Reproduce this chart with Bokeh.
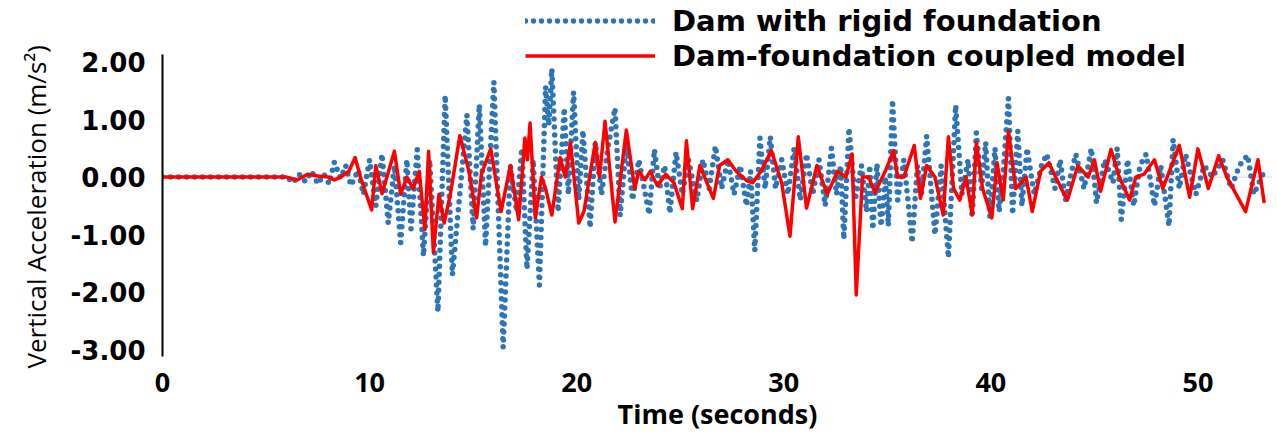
from bokeh.plotting import figure
from bokeh.models import Range1d, FixedTicker, Span, Legend, LegendItem, NumeralTickFormatter, Title
from bokeh.embed import file_html
from bokeh.resources import INLINE

# ---- data ----
x_ticks = [0, 10, 20, 30, 40, 50]
y_ticks = [-3, -2, -1, 0, 1, 2]

series_names = ["Dam with rigid foundation", "Dam-foundation coupled model"]
x_title = "Time (seconds)"
y_title = "Vertical Acceleration (m/s²)"

rigid_t = [0, 6.0, 6.3, 6.6, 6.9, 7.2, 7.5, 7.8, 8.05, 8.3,
           8.6, 8.85, 9.1, 9.45, 9.7, 10.0, 10.3, 10.6, 10.9, 11.2,
           11.5, 11.8, 12.0, 12.3, 12.6, 12.9, 13.3, 13.65, 14.0, 14.7,
           15.0, 15.3, 15.6, 16.0, 16.45, 16.8, 17.1, 17.35, 17.6, 17.9,
           18.2, 18.5, 18.65, 18.8, 19.1, 19.4, 19.6, 19.85, 20.1, 20.3,
           20.65, 20.9, 21.2, 21.5, 21.85, 22.1, 22.4, 22.7, 23.0, 23.5,
           23.75, 24.0, 24.25, 24.5, 24.8, 25.1, 25.4, 25.8, 26.1, 26.4,
           26.7, 27.0, 27.3, 27.6, 27.9, 28.2, 28.4, 28.6, 28.85, 29.1,
           29.35, 29.6, 29.9, 30.2, 30.5, 30.8, 31.1, 31.4, 31.7, 32.0,
           32.3, 32.55, 32.75, 32.9, 33.15, 33.45, 33.75, 34.0, 34.15, 34.3,
           34.5, 34.7, 34.9, 35.05, 35.25, 35.5, 35.8, 36.2, 36.45, 36.65,
           36.9, 37.3, 37.6, 37.95, 38.3, 38.6, 38.9, 39.1, 39.3, 39.55,
           39.75, 39.95, 40.2, 40.4, 40.6, 40.85, 41.05, 41.3, 41.5, 41.75,
           42.0, 42.1, 42.45, 42.7, 43.1, 43.35, 43.6, 43.9, 44.1, 44.5,
           44.85, 45.1, 45.5, 45.9, 46.1, 46.3, 46.6, 46.9, 47.2, 47.5,
           47.9, 48.2, 48.6, 48.8, 49.1, 49.4, 49.9, 50.3, 50.7, 51.2,
           51.6, 52.0, 52.4, 52.7, 53.2]
rigid_v = [0, 0, -0.1, 0.05, -0.08, 0.1, -0.12, 0.05, -0.12, 0.26,
           -0.02, 0.2, -0.15, 0.12, -0.3, 0.3, -0.5, 0.4, -0.8, 0.2,
           -1.14, 0.3, -0.9, 0.48, -1.37, 0.3, -2.34, 1.42, -1.7, 1.08,
           -0.9, 1.26, -1.2, 1.65, -2.96, 0.2, -0.6, 0.5, -1.6, 0.3,
           -1.88, 1.57, 0.9, 1.88, -0.6, 1.2, -0.3, 1.48, -0.4, 0.81,
           -0.88, 0.6, -0.3, 0.5, 1.2, -0.67, 0.6, -0.4, 0.3, -0.65,
           0.48, -0.2, 0.2, -0.63, 0.43, -0.3, 0.3, -0.41, 0.3, -0.2,
           0.54, -0.2, 0.3, -0.3, 0.2, -0.5, 0.1, -1.28, 0.68, -0.2,
           0.7, -0.2, 0.3, -0.3, 0.5, -0.4, 0.4, -0.3, 0.3, -0.5,
           0.5, -0.3, 0.2, -1.08, 0.85, -0.4, 0.2, -0.6, 0.2, -0.91,
           0.23, -0.85, 0.0, -0.85, 1.34, -0.4, 0.3, -1.14, 0.2, -0.3,
           0.71, -1.0, 0.2, -1.4, 1.25, -0.3, 0.3, -0.7, 0.77, -0.2,
           0.6, -0.7, 0.5, -0.6, 0.1, 1.37, -0.65, 0.8, -0.5, 0.5,
           -0.1, -0.3, 0.2, 0.4, -0.2, 0.3, -0.41, 0.1, 0.4, -0.2,
           0.5, -0.45, 0.3, -0.1, 0.5, -0.74, 0.3, -0.5, 0.2, 0.4,
           -0.5, 0.2, -0.85, 0.65, -0.2, 0.4, -0.3, 0.2, 0.0, 0.3,
           -0.2, 0.2, 0.38, -0.3, 0.1]

coupled_t = [0, 6.0, 6.5, 7.0, 7.5, 8.0, 8.3, 8.6, 9.0, 9.3,
             9.6, 10.1, 10.3, 10.6, 11.2, 11.5, 11.8, 12.1, 12.4, 12.67,
             12.85, 13.08, 13.35, 13.6, 13.9, 14.36, 14.8, 15.17, 15.4, 15.85,
             16.35, 16.8, 17.2, 17.5, 17.62, 17.75, 18.0, 18.3, 18.5, 18.8,
             19.2, 19.45, 19.7, 20.1, 20.35, 20.9, 21.1, 21.37, 21.85, 22.4,
             22.8, 23.0, 23.3, 23.55, 23.9, 24.3, 24.7, 25.1, 25.3, 25.6,
             25.95, 26.6, 26.9, 27.3, 27.7, 28.2, 28.5, 28.9, 29.4, 29.9,
             30.3, 30.7, 31.1, 31.6, 32.1, 32.6, 33.0, 33.3, 33.5, 33.8,
             34.1, 34.4, 34.9, 35.3, 35.5, 35.8, 36.3, 36.6, 36.9, 37.3,
             37.7, 37.95, 38.2, 38.5, 38.8, 39.1, 39.3, 39.6, 40.05, 40.3,
             40.6, 40.85, 41.2, 41.7, 42.0, 42.4, 42.8, 43.4, 43.7, 44.2,
             44.7, 45.0, 45.3, 45.8, 46.2, 46.7, 47.0, 47.4, 47.9, 48.3,
             49.1, 49.6, 50.0, 50.5, 51.0, 51.4, 52.3, 52.9, 53.2]
coupled_v = [0, 0, -0.05, 0.05, 0.02, 0.0, -0.05, 0.0, 0.1, 0.34,
             -0.05, -0.57, 0.2, -0.29, 0.45, -0.3, 0.0, -0.2, 0.1, -0.91,
             0.45, -1.31, -0.3, -0.8, -0.3, 0.72, 0.1, -0.71, 0.05, 0.49,
             -0.6, 0.2, -0.74, 0.68, 0.3, 0.94, -0.71, 0.0, -0.2, -0.66,
             0.34, 0.0, 0.6, -0.8, -0.6, 0.6, 0.0, 0.97, -0.78, 0.82,
             -0.2, 0.1, -0.05, 0.1, -0.15, 0.05, -0.1, -0.55, 0.63, -0.55,
             0.2, -0.37, 0.2, 0.3, 0.1, -0.06, -0.1, 0.1, 0.46, -0.1,
             -1.03, 0.7, -0.54, 0.2, -0.3, 0.1, 0.0, 0.4, -2.05, 0.0,
             0.0, -0.27, 0.1, 0.46, 0.0, 0.0, 0.55, -0.37, 0.2, 0.0,
             -0.66, 0.7, -0.2, -0.4, 0.0, -0.66, 0.6, -0.2, -0.71, 0.25,
             -0.4, 0.8, -0.2, 0.0, -0.6, 0.1, 0.25, -0.2, -0.4, 0.2,
             0.0, 0.3, -0.25, 0.48, 0.0, -0.4, 0.0, 0.05, 0.3, -0.2,
             0.55, -0.35, 0.49, -0.2, 0.37, 0.0, -0.6, 0.3, -0.45]

# ---- figure ----
# frame reaches the top of the page so the legend above the data is not clipped;
# the y-axis line itself is bounded to the visible value range.
p = figure(width=1277, height=434, output_backend="svg", toolbar_location=None,
           x_range=Range1d(0, 53.6), y_range=Range1d(-3.12, 3.07),
           min_border_left=162, min_border_right=5, min_border_top=0,
           min_border_bottom=71)
p.outline_line_color = None
p.xgrid.visible = False
p.ygrid.visible = False
p.background_fill_color = "white"

zero_line = Span(location=0, dimension="width", line_color="#d4d4d4",
                 line_width=1, level="underlay")
p.add_layout(zero_line)

r_rigid = p.line(rigid_t, rigid_v, line_color="#2e75b6", line_width=5.5,
                 line_dash="0 8", line_cap="round")
r_coupled = p.line(coupled_t, coupled_v, line_color="#ff0000", line_width=3.5,
                   line_join="round")

# y axis
ya = p.yaxis[0]
ya.bounds = (-3.12, 2.13)
ya.ticker = FixedTicker(ticks=y_ticks)
ya.formatter = NumeralTickFormatter(format="0.00")
ya.axis_line_color = "black"
ya.axis_line_width = 2
ya.major_tick_line_color = None
ya.minor_tick_line_color = None
ya.major_label_standoff = 11
ya.major_label_text_font = "DejaVu Sans"
ya.major_label_text_font_style = "bold"
ya.major_label_text_font_size = "26px"
ya.major_label_text_color = "black"

# y-axis title: starts just below the frame bottom and reads upwards
ytitle = Title(text=y_title, align="left", offset=-12, standoff=28,
               text_font="Open Sans", text_font_style="normal",
               text_font_size="26px", text_color="black")
p.add_layout(ytitle, "left")

# x axis
xa = p.xaxis[0]
xa.ticker = FixedTicker(ticks=x_ticks)
xa.axis_line_color = None
xa.major_tick_line_color = None
xa.minor_tick_line_color = None
xa.major_label_standoff = 10
xa.major_label_text_font = "Open Sans"
xa.major_label_text_font_style = "bold"
xa.major_label_text_font_size = "27px"
xa.major_label_text_color = "black"
xa.axis_label = x_title
xa.axis_label_text_font = "Open Sans"
xa.axis_label_text_font_style = "bold"
xa.axis_label_text_font_size = "27px"
xa.axis_label_text_color = "black"
xa.axis_label_standoff = 0

legend = Legend(items=[LegendItem(label=series_names[0], renderers=[r_rigid]),
                       LegendItem(label=series_names[1], renderers=[r_coupled])],
                location=(363, 283))
legend.background_fill_alpha = 0
legend.border_line_color = None
legend.padding = 0
legend.margin = 0
legend.spacing = 0
legend.glyph_width = 130
legend.glyph_height = 35
legend.label_height = 35
legend.label_standoff = 17
legend.label_text_font = "DejaVu Sans"
legend.label_text_font_style = "bold"
legend.label_text_font_size = "29px"
legend.label_text_color = "black"
p.add_layout(legend)

open("out.html", "w").write(file_html(p, INLINE))
